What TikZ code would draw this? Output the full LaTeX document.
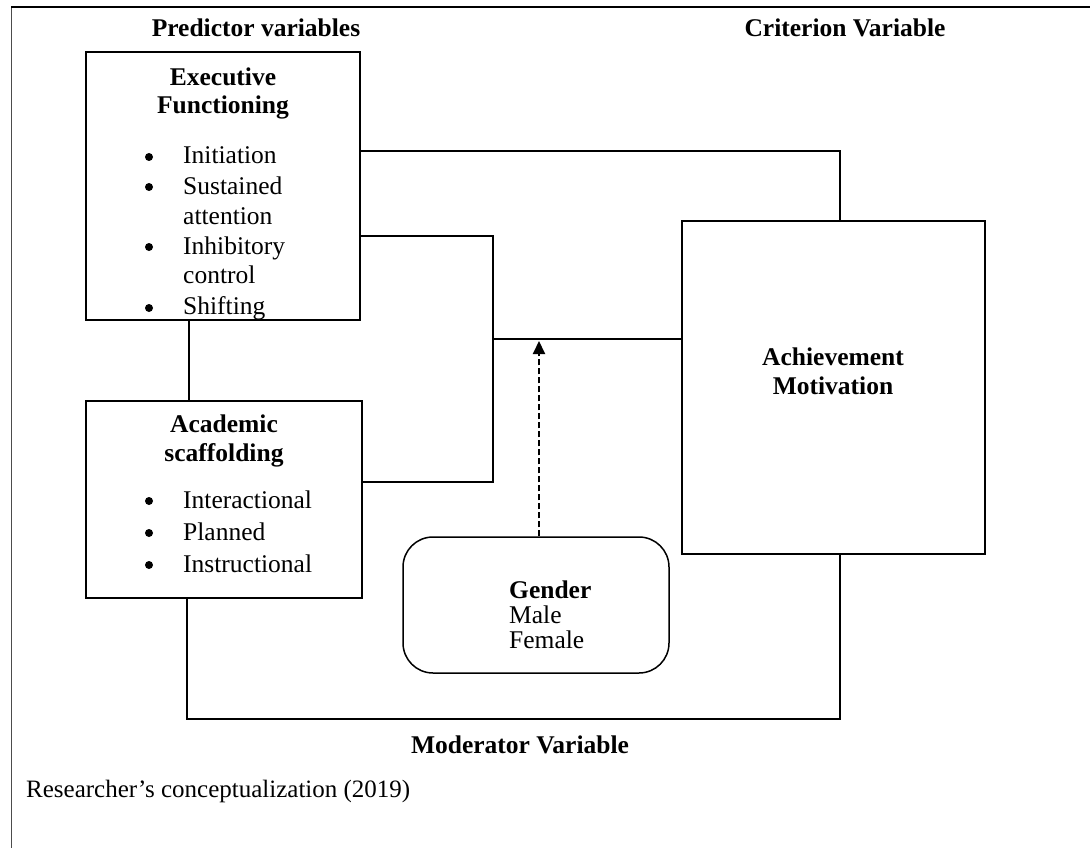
\documentclass[tikz,border=0pt]{standalone}
\usepackage{fontspec}
\setmainfont{Liberation Serif}
\usetikzlibrary{arrows.meta}
\tikzset{
  box/.style={draw, line width=1.5pt, inner sep=0pt},
  link/.style={line width=1.5pt},
  head/.style={anchor=base, inner sep=0pt, font=\bfseries\fontsize{25.5}{28}\selectfont},
  item/.style={anchor=base west, inner sep=0pt, font=\fontsize{25.5}{28}\selectfont},
  dot/.style={circle, fill, inner sep=0pt, minimum size=8}
}

\begin{document}
\begin{tikzpicture}[x=1pt, y=-1pt]
\useasboundingbox (0,0) rectangle (1090,848);
\draw[black!70, line width=1pt] (11,848) -- (11,7);
\draw[line width=1.8pt] (11,7) -- (1090,7);
\node[box, minimum width=274, minimum height=268] (ef) at (223,186) {};
\node[box, minimum width=276, minimum height=197] (as) at (224,499.5) {};
\node[box, minimum width=303, minimum height=333] (am) at (833.5,387.5) {};
\node[box, rounded corners=30, minimum width=266, minimum height=136] (gen) at (536,605) {};
\node[head] (pv) at (256,37) {Predictor variables};
\node[head] (cv) at (845,37) {Criterion Variable};
\node[head] (ef1) at (223,86) {Executive};
\node[head] (ef2) at (223,114) {Functioning};
\node[dot] (eb1) at (149,157) {};
\node[item] (ei1) at (183,164) {Initiation};
\node[dot] (eb2) at (149,187) {};
\node[item] (ei2) at (183,194) {Sustained};
\node[item] (ei3) at (183,224) {attention};
\node[dot] (eb4) at (149,247) {};
\node[item] (ei4) at (183,254) {Inhibitory};
\node[item] (ei5) at (183,283) {control};
\node[dot] (eb6) at (149,308) {};
\node[item] (ei6) at (183,314) {Shifting};
\node[head] (as1) at (224,432) {Academic};
\node[head] (as2) at (224,461) {scaffolding};
\node[dot] (ab1) at (149,501) {};
\node[item] (ai1) at (183,508) {Interactional};
\node[dot] (ab2) at (149,533) {};
\node[item] (ai2) at (183,540) {Planned};
\node[dot] (ab3) at (149,565) {};
\node[item] (ai3) at (183,572) {Instructional};
\node[head] (am1) at (833,365) {Achievement};
\node[head] (am2) at (833,394) {Motivation};
\node[item, font=\bfseries\fontsize{25.5}{28}\selectfont] (g1) at (509,598) {Gender};
\node[item] (g2) at (509,623) {Male};
\node[item] (g3) at (509,648) {Female};
\node[head] (mv) at (520,753) {Moderator Variable};
\node[anchor=base west, inner sep=0pt, font=\fontsize{25}{27}\selectfont] (src) at (26,797) {Researcher’s conceptualization (2019)};
\coordinate (c1) at (840,151);
\draw[link] (ef.east |- c1) -- (c1) -- (am.north -| c1);
\coordinate (c2) at (493,236);
\coordinate (c3) at (493,482);
\draw[link] (ef.east |- c2) -- (c2) -- (c3) -- (as.east |- c3);
\coordinate (c4) at (493,339);
\draw[link] (c4) -- (am.west |- c4);
\coordinate (tip) at (539,341);
\draw[line width=2pt, dash pattern=on 6pt off 3pt, -{Triangle[length=13pt, width=12pt]}] (gen.north -| tip) -- (tip);
\coordinate (c5) at (189,360);
\draw[link] (ef.south -| c5) -- (as.north -| c5);
\coordinate (c6) at (187,719);
\coordinate (c7) at (840,719);
\draw[link] (as.south -| c6) -- (c6) -- (c7) -- (am.south -| c7);
\end{tikzpicture}
\end{document}
